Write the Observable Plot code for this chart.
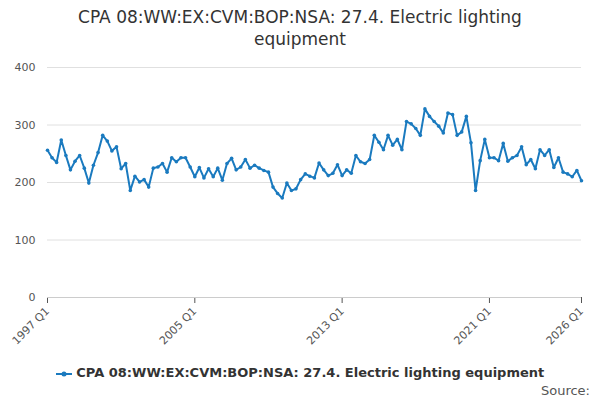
<!DOCTYPE html>
<html><head><meta charset="utf-8">
<script src="https://cdn.jsdelivr.net/npm/d3@7"></script>
<script src="https://cdn.jsdelivr.net/npm/@observablehq/plot@0.6"></script>
<style>
body{margin:0;width:600px;height:400px;position:relative;font-family:"DejaVu Sans",sans-serif;background:#fff;overflow:hidden}
#title{position:absolute;top:6px;left:0;width:600px;text-align:center;font-size:17px;color:#333;line-height:22px}
#chart{position:absolute;top:50px;left:0}
#legend{position:absolute;top:365px;left:0;width:600px;text-align:center;font-size:13px;font-weight:bold;color:#333}
#source{position:absolute;top:383px;right:10px;font-size:13px;color:#555}
</style></head><body>
<div id="title">CPA 08:WW:EX:CVM:BOP:NSA: 27.4. Electric lighting<br>equipment</div>
<div id="chart"></div>
<div id="legend"><svg width="16" height="10" style="vertical-align:middle"><line x1="0" y1="5" x2="16" y2="5" stroke="#1a7abf" stroke-width="2"/><circle cx="8" cy="5" r="2.5" fill="#1a7abf"/></svg> CPA 08:WW:EX:CVM:BOP:NSA: 27.4. Electric lighting equipment</div>
<div id="source">Source:</div>
<script>
const startYear = 1997;
const values = [256,243,235,274,247,222,237,247,225,199,230,252,282,272,255,262,224,233,186,211,201,205,192,225,227,233,218,243,236,243,243,227,210,226,208,224,210,225,204,233,
242,222,227,240,225,230,225,221,218,192,181,173,199,186,189,205,215,211,208,234,222,212,216,231,212,222,216,247,236,233,240,282,270,257,282,265,275,257,306,
302,294,282,328,315,306,298,286,321,318,282,288,315,269,186,238,275,243,243,238,268,237,243,247,262,231,240,224,257,247,257,226,243,218,215,210,221,203];
const tickLabels = ["1997 Q1","2005 Q1","2013 Q1","2021 Q1","2026 Q1"];
const data = values.map((v,i)=>({date:new Date(startYear+Math.floor(i/4),(i%4)*3,1),value:v}));
const tickDates = tickLabels.map(s=>new Date(+s.slice(0,4),0,1));
const fmt = d=>d.getFullYear()+" Q"+(Math.floor(d.getMonth()/3)+1);
const color="#1a7abf";
const chart = Plot.plot({
  width:600,height:300,marginTop:17,marginBottom:53,marginLeft:47,marginRight:19,
  style:{fontFamily:"DejaVu Sans",fontSize:"11px",color:"#555"},
  x:{type:"utc",domain:[tickDates[0],new Date(2026,0,1)],ticks:tickDates,tickFormat:fmt,tickRotate:-45,label:null,tickSize:6},
  y:{domain:[0,400],ticks:[0,100,200,300,400],grid:false,label:null,tickSize:0,tickPadding:12},
  marks:[
    Plot.gridY([0,100,200,300,400],{stroke:"#e0e0e0",strokeOpacity:1}),
    Plot.ruleY([0],{stroke:"#ccc"}),
    Plot.line(data,{x:"date",y:"value",stroke:color,strokeWidth:2}),
    Plot.dot(data,{x:"date",y:"value",fill:color,r:1.8})
  ]
});
document.getElementById("chart").appendChild(chart);
</script>
</body></html>
